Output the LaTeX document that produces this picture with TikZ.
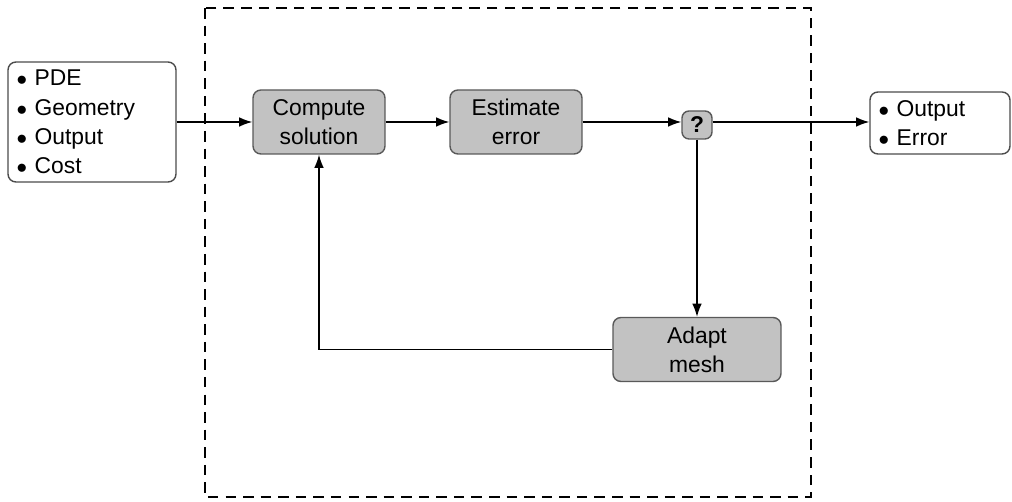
\documentclass[tikz,border=0pt]{standalone}
\usepackage{fontspec}
\setmainfont{Liberation Sans}
\usetikzlibrary{arrows.meta}

\begin{document}
\begin{tikzpicture}[x=0.02cm, y=-0.02cm, line width=0.8pt, >={Latex[length=7.5pt,width=5.5pt]},
    block/.style={draw=black!65, fill=black!24, rounded corners=4.5pt, align=center,
        minimum width=2.64cm, minimum height=1.28cm, inner sep=0pt,
        font=\fontsize{13}{16.6}\selectfont},
    listbox/.style={draw=black!70, fill=white, rounded corners=4.5pt, align=left,
        inner xsep=0.17cm, inner ysep=0pt, font=\fontsize{13}{16.6}\selectfont},
    decision/.style={draw=black!65, fill=black!24, rounded corners=4pt, inner sep=0pt,
        minimum width=0.6cm, minimum height=0.56cm, font=\bfseries\fontsize{13}{14}\selectfont}]
    \useasboundingbox (0, 0) rectangle (1012, 502);

    \draw[dashed, dash pattern=on 6pt off 4pt] (205, 8) rectangle (811, 497);

    \node[listbox, text width=3.02cm, minimum height=2.4cm] (inputs) at (92, 122)
        {$\bullet$ PDE\\$\bullet$ Geometry\\$\bullet$ Output\\$\bullet$ Cost};
    \node[block] (solve) at (319, 122) {Compute\\solution};
    \node[block] (estimate) at (516, 122) {Estimate\\error};
    \node[decision] (check) at (697, 125) {?};
    \node[block, minimum width=3.36cm] (adapt) at (697, 349.5) {Adapt\\mesh};
    \node[listbox, text width=2.46cm, minimum height=1.24cm] (outputs) at (940, 123)
        {$\bullet$ Output\\$\bullet$ Error};

    \draw[->]
    (inputs.east |- solve) -- (solve.west);
    \draw[->] (solve) -- (estimate);
    \draw[->] (estimate.east) -- (check.west |- estimate);
    \draw[->] (check.east |- estimate) -- (outputs.west |- estimate);
    \draw[->] (check) -- (adapt);
    \draw[->] (adapt.west) -| (solve.south);

\end{tikzpicture}
\end{document}
